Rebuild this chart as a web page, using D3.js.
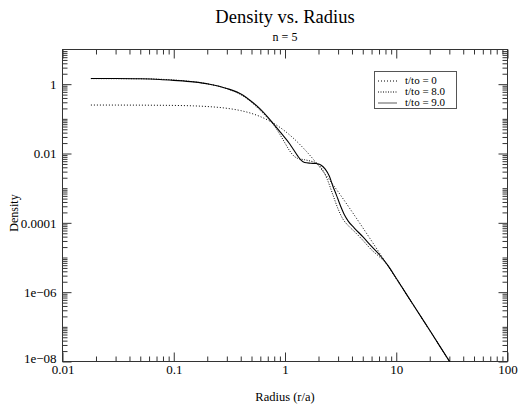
<!DOCTYPE html>
<html>
<head>
<meta charset="utf-8">
<script src="https://cdn.jsdelivr.net/npm/d3@7"></script>
<style>
  html, body { margin: 0; padding: 0; background: #fff; }
  svg { display: block; }
  svg text { font-family: "Liberation Serif", "Times New Roman", Times, "Nimbus Roman", "DejaVu Serif", serif; fill: #000; }
</style>
</head>
<body>
<svg id="chart" width="519" height="407"></svg>
<script>
// ---------- data ----------
const seriesNames = ["t/to = 0", "t/to = 8.0", "t/to = 9.0"];

// radius (r/a) and log10(density) pairs
const radiusT0 = [0.018, 0.03, 0.05, 0.07, 0.1, 0.15, 0.2, 0.3, 0.4, 0.5, 0.6, 0.7, 0.8, 1.0, 1.2, 1.5, 2, 2.5, 3, 4, 5, 6, 7, 8, 10, 15, 20, 25, 30, 32];
const logDensT0 = [-0.602, -0.603, -0.605, -0.608, -0.613, -0.626, -0.645, -0.696, -0.763, -0.844, -0.936, -1.035, -1.139, -1.355, -1.570, -1.882, -2.349, -2.753, -3.102, -3.678, -4.139, -4.522, -4.849, -5.134, -5.613, -6.487, -7.110, -7.594, -7.989, -8.13];

const radiusT8 = [0.018, 0.03, 0.05, 0.1, 0.15, 0.2, 0.3, 0.4, 0.5, 0.6, 0.7, 0.8, 0.9, 1.0, 1.1, 1.2, 1.3, 1.5, 1.7, 1.9, 2.1, 2.4, 2.7, 3.0, 3.3, 3.7, 4.2, 5, 6, 7, 8, 10, 15, 20, 30, 32];
const logDensT8 = [0.16, 0.158, 0.155, 0.12, 0.07, 0.01, -0.13, -0.30, -0.52, -0.76, -0.98, -1.20, -1.45, -1.70, -1.92, -2.07, -2.14, -2.18, -2.22, -2.27, -2.40, -2.75, -3.20, -3.60, -3.88, -4.08, -4.25, -4.50, -4.78, -4.97, -5.15, -5.60, -6.48, -7.10, -7.99, -8.13];

const radiusT9 = [0.018, 0.03, 0.05, 0.075, 0.1, 0.15, 0.21, 0.3, 0.42, 0.5, 0.6, 0.7, 0.78, 0.9, 1.0, 1.1, 1.2, 1.3, 1.4, 1.5, 1.7, 1.9, 2.1, 2.3, 2.5, 2.7, 2.9, 3.1, 3.4, 3.7, 4.2, 5.0, 6.0, 7.2, 8.5, 10, 15, 20, 30, 32];
const logDensT9 = [0.165, 0.163, 0.155, 0.135, 0.11, 0.066, 0.0, -0.124, -0.32, -0.50, -0.72, -0.95, -1.13, -1.37, -1.55, -1.72, -1.90, -2.07, -2.20, -2.26, -2.28, -2.29, -2.33, -2.45, -2.65, -2.95, -3.20, -3.45, -3.75, -3.95, -4.15, -4.40, -4.68, -4.95, -5.25, -5.60, -6.48, -7.10, -7.99, -8.13];

const xTickValues = [0.01, 0.1, 1, 10, 100];
const xTickLabels = ["0.01", "0.1", "1", "10", "100"];
const yTickValues = [1, 0.01, 0.0001, 1e-6, 1e-8];
const yTickLabels = ["1", "0.01", "0.0001", "1e\u221206", "1e\u221208"];

// ---------- layout ----------
const SERIF = "'Liberation Serif', 'Times New Roman', Times, 'Nimbus Roman', 'DejaVu Serif', serif";
const svg = d3.select("#chart");
const pL = 62.5, pR = 507.5, pT = 49.5, pB = 361.5;

const x = d3.scaleLog().domain([0.01, 100]).range([pL, pR]);
const y = d3.scaleLog().domain([1e-8, 10]).range([pB, pT]);

const series = [
  { name: seriesNames[0], r: radiusT0, ld: logDensT0, dash: "1,2", width: 1, legendStroke: "#000", legendWidth: 1 },
  { name: seriesNames[1], r: radiusT8, ld: logDensT8, dash: "1,1.5", width: 1, legendStroke: "#000", legendWidth: 1 },
  { name: seriesNames[2], r: radiusT9, ld: logDensT9, dash: null, width: 1.1, legendStroke: "#999", legendWidth: 1.6 }
];

// minor ticks
const xMinor = [];
for (let k = -2; k <= 1; k++) for (let m = 2; m <= 9; m++) xMinor.push(m * Math.pow(10, k));
const yMinor = [];
for (let k = -8; k <= 0; k++) {
  for (let m = 2; m <= 9; m++) yMinor.push(m * Math.pow(10, k));
  if (k % 2 !== 0) yMinor.push(Math.pow(10, k));
}

// clip
svg.append("defs").append("clipPath").attr("id", "clip")
  .append("rect").attr("x", pL).attr("y", pT).attr("width", pR - pL).attr("height", pB - pT);

// axes (ticks inward on all four sides)
function styleAxis(g) {
  g.attr("font-family", SERIF);
  g.select(".domain").remove();
  g.selectAll(".tick line").attr("stroke", "#333");
}
const fmtX = d => xTickLabels[xTickValues.indexOf(d)];
const fmtY = d => yTickLabels[yTickValues.indexOf(d)];

svg.append("g").attr("transform", `translate(0,${pB})`)
  .call(d3.axisBottom(x).tickValues(xMinor).tickSize(-5).tickFormat(""))
  .call(styleAxis);
svg.append("g").attr("transform", `translate(0,${pB})`)
  .call(d3.axisBottom(x).tickValues(xTickValues).tickSize(-9).tickPadding(3).tickFormat(fmtX))
  .call(styleAxis)
  .call(g => g.selectAll("text").attr("font-size", 13).attr("fill", "#000"));
svg.append("g").attr("transform", `translate(0,${pT})`)
  .call(d3.axisTop(x).tickValues(xMinor).tickSize(-5).tickFormat(""))
  .call(styleAxis);
svg.append("g").attr("transform", `translate(0,${pT})`)
  .call(d3.axisTop(x).tickValues(xTickValues).tickSize(-9).tickFormat(""))
  .call(styleAxis);

svg.append("g").attr("transform", `translate(${pL},0)`)
  .call(d3.axisLeft(y).tickValues(yMinor).tickSize(-5).tickFormat(""))
  .call(styleAxis);
svg.append("g").attr("transform", `translate(${pL},0)`)
  .call(d3.axisLeft(y).tickValues(yTickValues).tickSize(-9).tickPadding(6).tickFormat(fmtY))
  .call(styleAxis)
  .call(g => g.selectAll("text").attr("font-size", 13).attr("fill", "#000")
    .attr("dy", d => d === 1e-8 ? "0.05em" : "0.32em"));
svg.append("g").attr("transform", `translate(${pR},0)`)
  .call(d3.axisRight(y).tickValues(yMinor).tickSize(-5).tickFormat(""))
  .call(styleAxis);
svg.append("g").attr("transform", `translate(${pR},0)`)
  .call(d3.axisRight(y).tickValues(yTickValues).tickSize(-9).tickFormat(""))
  .call(styleAxis);

// frame
svg.append("rect").attr("x", pL).attr("y", pT).attr("width", pR - pL).attr("height", pB - pT)
  .attr("fill", "none").attr("stroke", "#333").attr("stroke-width", 1);

// lines
const line = d3.line().x(d => x(d[0])).y(d => y(Math.pow(10, d[1]))).curve(d3.curveMonotoneX);
const plot = svg.append("g").attr("clip-path", "url(#clip)");
series.forEach(s => {
  const pts = s.r.map((r, i) => [r, s.ld[i]]);
  plot.append("path").datum(pts).attr("d", line)
    .attr("fill", "none").attr("stroke", "#000").attr("stroke-width", s.width)
    .attr("stroke-dasharray", s.dash);
});

// titles
const titles = svg.append("g").attr("font-family", SERIF);
titles.append("text").attr("x", (pL + pR) / 2).attr("y", 23).attr("text-anchor", "middle")
  .attr("font-size", 18.5).text("Density vs. Radius");
titles.append("text").attr("x", (pL + pR) / 2).attr("y", 41).attr("text-anchor", "middle")
  .attr("font-size", 12).text("n = 5");
titles.append("text").attr("x", (pL + pR) / 2).attr("y", 401).attr("text-anchor", "middle")
  .attr("font-size", 12.5).text("Radius (r/a)");
titles.append("text").attr("transform", `translate(18,213) rotate(-90)`)
  .attr("text-anchor", "middle").attr("font-size", 12).text("Density");

// legend
const lg = svg.append("g").attr("font-family", SERIF);
lg.append("rect").attr("x", 374.5).attr("y", 71.5).attr("width", 82).attr("height", 37)
  .attr("fill", "#fff").attr("stroke", "#555").attr("stroke-width", 1);
series.forEach((s, i) => {
  const yy = 80.5 + i * 11;
  lg.append("line").attr("x1", 378).attr("x2", 397).attr("y1", yy + 0.5).attr("y2", yy + 0.5)
    .attr("stroke", s.legendStroke).attr("stroke-width", s.legendWidth).attr("stroke-dasharray", s.dash);
  lg.append("text").attr("x", 405).attr("y", yy).attr("dy", "0.35em").attr("font-size", 11).text(s.name);
});
</script>
</body>
</html>
